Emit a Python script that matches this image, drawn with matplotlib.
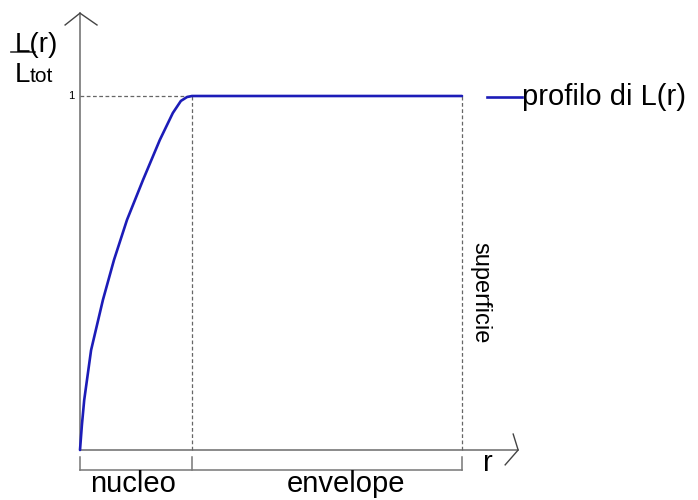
import matplotlib.pyplot as plt
import numpy as np

plt.rcParams['font.family'] = ['Liberation Sans', 'DejaVu Sans']

# Profilo della luminosita' L(r)/Ltot (r normalizzato al raggio R)
r = [0.0, 0.005, 0.011, 0.029, 0.060, 0.089, 0.123, 0.165, 0.209, 0.243, 0.264, 0.280, 0.293, 1.0]
L = [0.0, 0.071, 0.141, 0.282, 0.424, 0.537, 0.650, 0.763, 0.876, 0.952, 0.986, 0.997, 1.0, 1.0]

r_nucleo = 0.293
R = 1.0

blu = '#1c1cb8'
grigio = '#777777'

fig = plt.figure(figsize=(6.98, 5), dpi=100)
ax = fig.add_axes([0, 0, 1, 1])
ax.set_xlim(-80 / 382, 618 / 382)
ax.set_ylim(-50 / 354, 450 / 354)
ax.axis('off')

# assi con frecce aperte
ax.plot([0, 1.147], [0, 0], color=grigio, lw=1.2)
ax.plot([0, 0], [0, 1.234], color=grigio, lw=1.2)
ax.plot([-0.039, 0, 0.0445], [1.2006, 1.234, 1.2006], color='#444444', lw=1.0)
ax.plot([1.134, 1.147, 1.113], [0.045, 0, -0.042], color='#444444', lw=1.0)

# linee tratteggiate di riferimento
ax.plot([0, r_nucleo], [1, 1], color='#666666', lw=0.9, ls=(0, (3, 2)))
ax.plot([r_nucleo, r_nucleo], [0, 1], color='#666666', lw=0.9, ls=(0, (3, 2)))
ax.plot([R, R], [0, 1], color='#666666', lw=0.9, ls=(0, (3, 2)))

# curva
ax.plot(r, L, color=blu, lw=1.9, solid_capstyle='round', solid_joinstyle='round')

# parentesi sotto l'asse r
yb0, yb1 = -0.0198, -0.0565
ax.plot([0, R], [yb1, yb1], color=grigio, lw=1.1)
for xb in [0, r_nucleo, R]:
    ax.plot([xb, xb], [yb0, yb1], color=grigio, lw=1.1)

# etichette
ax.text(-0.170, 1.124, 'L(r)', fontsize=20, va='baseline', ha='left')
ax.plot([-0.181, -0.118], [1.124, 1.124], color='#333333', lw=1.2)
ax.text(-0.170, 1.0395, 'L', fontsize=20, va='baseline', ha='left')
ax.text(-0.131, 1.0395, 'tot', fontsize=15, va='baseline', ha='left')
ax.text(-0.016, 1.0, '1', fontsize=8, va='center', ha='right')

ax.plot([1.065, 1.157], [0.997, 0.997], color=blu, lw=1.9)
ax.text(1.157, 0.997, 'profilo di L(r)', fontsize=21, va='center', ha='left')

ax.text(1.047, 0.443, 'superficie', fontsize=17, rotation=-90, va='center', ha='center')
ax.text(1.068, -0.037, 'r', fontsize=21, va='center', ha='center')
ax.text(0.139, -0.119, 'nucleo', fontsize=21, va='baseline', ha='center')
ax.text(0.696, -0.119, 'envelope', fontsize=21, va='baseline', ha='center')

fig.savefig('out.png', dpi=100)
